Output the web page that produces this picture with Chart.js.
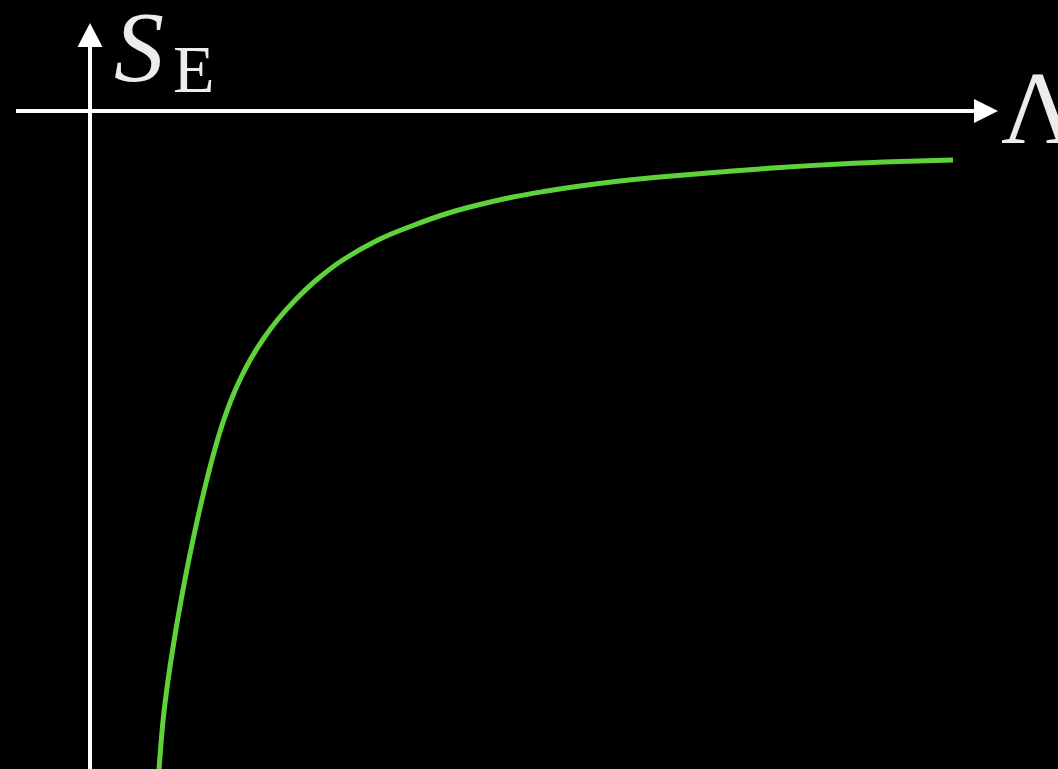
<!DOCTYPE html>
<html>
<head>
<meta charset="utf-8">
<script src="https://cdn.jsdelivr.net/npm/chart.js@4/dist/chart.umd.min.js"></script>
<style>
  html, body { margin: 0; padding: 0; background: #000; overflow: hidden; }
  #wrap { position: relative; width: 1058px; height: 769px; background: #000; }
  canvas { position: absolute; left: 0; top: 0; }
  .lbl { position: absolute; color: #ececec; font-family: "Liberation Serif", "DejaVu Serif", serif; line-height: 1; white-space: nowrap; }
  #s { left: 114px; top: -3px; font-size: 100px; font-style: italic; }
  #e { left: 173px; top: 35px; font-size: 68px; }
  #lam { left: 1001px; top: 56px; font-size: 104px; }
</style>
</head>
<body>
<div id="wrap">
  <canvas id="c" width="1058" height="769"></canvas>
  <div class="lbl" id="s">S</div>
  <div class="lbl" id="e">E</div>
  <div class="lbl" id="lam">Λ</div>
</div>
<script>
// Curve: Λ (horizontal) and S_E (vertical), origin at the axes crossing
const lambdaValues = [0.69, 0.731, 0.781, 0.842, 0.911, 0.988, 1.073, 1.16, 1.219, 1.275, 1.338, 1.411, 1.498, 1.601, 1.726, 1.874, 2.053, 2.264, 2.527, 2.88, 3.23, 3.57, 3.90, 4.23, 4.57, 4.90, 5.30, 5.70, 6.30, 6.90, 7.50, 8.10, 8.63];
const entropyValues = [-6.58, -6.09, -5.69, -5.29, -4.89, -4.49, -4.09, -3.72, -3.49, -3.29, -3.09, -2.89, -2.69, -2.49, -2.29, -2.09, -1.89, -1.69, -1.49, -1.29, -1.145, -1.025, -0.935, -0.86, -0.80, -0.75, -0.70, -0.66, -0.61, -0.565, -0.53, -0.505, -0.49];

// Visible window of the axes (data units)
const xRange = [-0.90, 9.68];
const yRange = [-6.58, 1.11];
// Axis extents (data units)
const xAxisStart = -0.74, xAxisTip = 9.08, xArrowLen = 0.24;
const yAxisTip = 0.88, yArrowLen = 0.24;

const points = lambdaValues.map((x, i) => ({ x: x, y: entropyValues[i] }));

const axesPlugin = {
  id: 'arrowAxes',
  beforeDatasetsDraw(chart) {
    const ctx = chart.ctx;
    const xs = chart.scales.x, ys = chart.scales.y;
    const x0 = xs.getPixelForValue(0), y0 = ys.getPixelForValue(0);
    ctx.save();
    ctx.strokeStyle = '#ffffff';
    ctx.fillStyle = '#ffffff';
    ctx.lineWidth = 4;
    // horizontal axis
    const xa = xs.getPixelForValue(xAxisStart);
    const xt = xs.getPixelForValue(xAxisTip);
    const xb = xs.getPixelForValue(xAxisTip - xArrowLen);
    ctx.beginPath(); ctx.moveTo(xa, y0); ctx.lineTo(xb + 1, y0); ctx.stroke();
    ctx.beginPath(); ctx.moveTo(xt, y0); ctx.lineTo(xb, y0 - 12); ctx.lineTo(xb, y0 + 12); ctx.closePath(); ctx.fill();
    // vertical axis
    const yt = ys.getPixelForValue(yAxisTip);
    const yb = ys.getPixelForValue(yAxisTip - yArrowLen);
    ctx.beginPath(); ctx.moveTo(x0, chart.height + 2); ctx.lineTo(x0, yb - 1); ctx.stroke();
    ctx.beginPath(); ctx.moveTo(x0, yt); ctx.lineTo(x0 - 12.5, yb); ctx.lineTo(x0 + 12.5, yb); ctx.closePath(); ctx.fill();
    ctx.restore();
  }
};

new Chart(document.getElementById('c'), {
  type: 'scatter',
  data: {
    datasets: [{
      data: points,
      showLine: true,
      borderColor: '#5fd13a',
      borderWidth: 5,
      pointRadius: 0,
      tension: 0.4,
      fill: false
    }]
  },
  options: {
    responsive: false,
    animation: false,
    devicePixelRatio: 1,
    layout: { padding: 0 },
    plugins: { legend: { display: false }, tooltip: { enabled: false }, title: { display: false } },
    scales: {
      x: { type: 'linear', min: xRange[0], max: xRange[1], display: false },
      y: { type: 'linear', min: yRange[0], max: yRange[1], display: false }
    }
  },
  plugins: [axesPlugin]
});
</script>
</body>
</html>
